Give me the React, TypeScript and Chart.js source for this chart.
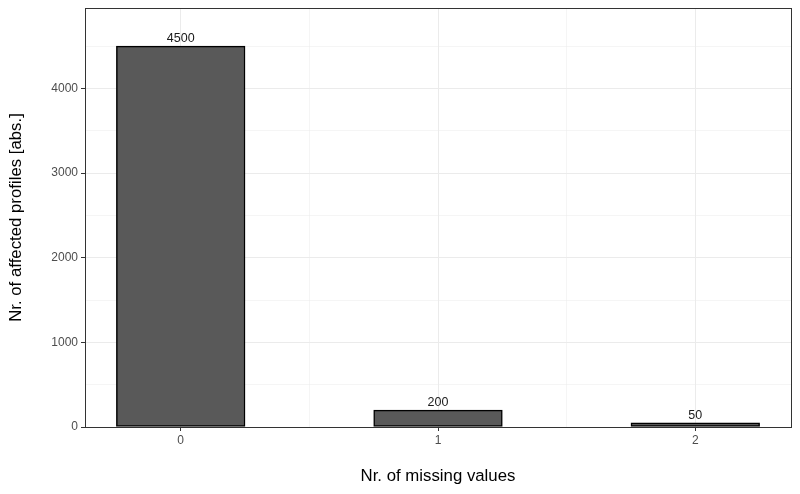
import { useEffect, useRef } from 'react'
import { Chart, registerables, ChartConfiguration, Plugin } from 'chart.js'

Chart.register(...registerables)

// values
const missingCounts = [0, 1, 2]
const affectedProfiles = [4500, 200, 50]
const xTitle = 'Nr. of missing values'
const yTitle = 'Nr. of affected profiles [abs.]'

const FONT = '"Liberation Sans", Arial, sans-serif'

// panel border like ggplot's theme_bw
const panelBorder: Plugin = {
  id: 'panelBorder',
  afterDatasetsDraw(chart) {
    const { ctx, chartArea } = chart
    ctx.save()
    ctx.strokeStyle = '#333333'
    ctx.lineWidth = 1
    ctx.strokeRect(chartArea.left + 0.5, chartArea.top + 0.5, chartArea.right - chartArea.left, chartArea.bottom - chartArea.top)
    ctx.restore()
  }
}

// count labels above the bars
const barLabels: Plugin = {
  id: 'barLabels',
  afterDatasetsDraw(chart) {
    const { ctx } = chart
    const meta = chart.getDatasetMeta(0)
    ctx.save()
    ctx.fillStyle = '#1a1a1a'
    ctx.font = `12.5px ${FONT}`
    ctx.textAlign = 'center'
    ctx.textBaseline = 'alphabetic'
    meta.data.forEach((bar, i) => {
      ctx.fillText(String(affectedProfiles[i]), bar.x, bar.y - 4)
    })
    ctx.restore()
  }
}

const isMajor = (v: number | undefined, step: number) =>
  v !== undefined && Math.abs(v / step - Math.round(v / step)) < 1e-6

const App = () => {
  const canvasRef = useRef<HTMLCanvasElement>(null)

  useEffect(() => {
    document.body.style.margin = '0'
    if (!canvasRef.current) return

    const config: ChartConfiguration<'bar'> = {
      type: 'bar',
      data: {
        datasets: [
          {
            data: missingCounts.map((x, i) => ({ x, y: affectedProfiles[i] })),
            backgroundColor: '#595959',
            borderColor: '#000000',
            borderWidth: 1.5,
            borderSkipped: false,
            // min sample spacing is the 0.5 minor tick step, so this gives bars 0.5 units wide
            barPercentage: 1,
            categoryPercentage: 1
          }
        ]
      },
      options: {
        animation: false,
        responsive: false,
        maintainAspectRatio: false,
        layout: { padding: { top: 8, right: 9, left: 0, bottom: 0 } },
        plugins: { legend: { display: false }, tooltip: { enabled: false } },
        scales: {
          x: {
            type: 'linear',
            offset: false,
            min: -0.372,
            max: 2.372,
            afterBuildTicks: (scale) => {
              scale.ticks = [0, 0.5, 1, 1.5, 2].map(value => ({ value }))
            },
            afterFit: (scale) => {
              scale.height = 67
              scale.paddingLeft = 0
              scale.paddingRight = 0
            },
            ticks: {
              color: '#4d4d4d',
              font: { size: 12, family: FONT },
              padding: 2,
              maxRotation: 0,
              autoSkip: false,
              callback: (v) => (isMajor(Number(v), 1) ? String(v) : '')
            },
            grid: {
              offset: false,
              color: '#ebebeb',
              lineWidth: (c) => (isMajor(c.tick?.value, 1) ? 1 : 0.5),
              tickColor: (c) => (isMajor(c.tick?.value, 1) ? '#333333' : 'rgba(0,0,0,0)'),
              tickLength: 4
            },
            border: { display: false },
            title: {
              display: true,
              text: xTitle,
              color: '#000000',
              font: { size: 16.8, family: FONT },
              padding: { top: 0, bottom: 8 }
            }
          },
          y: {
            type: 'linear',
            min: 0,
            max: 4950,
            afterBuildTicks: (scale) => {
              scale.ticks = [0, 500, 1000, 1500, 2000, 2500, 3000, 3500, 4000, 4500].map(value => ({ value }))
            },
            afterFit: (scale) => {
              scale.width = 85
              scale.paddingTop = 0
              scale.paddingBottom = 0
            },
            ticks: {
              color: '#4d4d4d',
              font: { size: 12, family: FONT },
              padding: 3,
              autoSkip: false,
              callback: (v) => (isMajor(Number(v), 1000) ? String(v) : '')
            },
            grid: {
              color: '#ebebeb',
              lineWidth: (c) => (isMajor(c.tick?.value, 1000) ? 1 : 0.5),
              tickColor: (c) => (isMajor(c.tick?.value, 1000) ? '#333333' : 'rgba(0,0,0,0)'),
              tickLength: 4
            },
            border: { display: false },
            title: {
              display: true,
              text: yTitle,
              color: '#000000',
              font: { size: 16.8, family: FONT },
              padding: { top: 6, bottom: 0 }
            }
          }
        }
      },
      plugins: [panelBorder, barLabels]
    }

    const chart = new Chart(canvasRef.current, config)
    return () => chart.destroy()
  }, [])

  return (
    <div style={{ width: 800, height: 494, background: '#ffffff' }}>
      <canvas ref={canvasRef} width={800} height={494} />
    </div>
  )
}

export default App
